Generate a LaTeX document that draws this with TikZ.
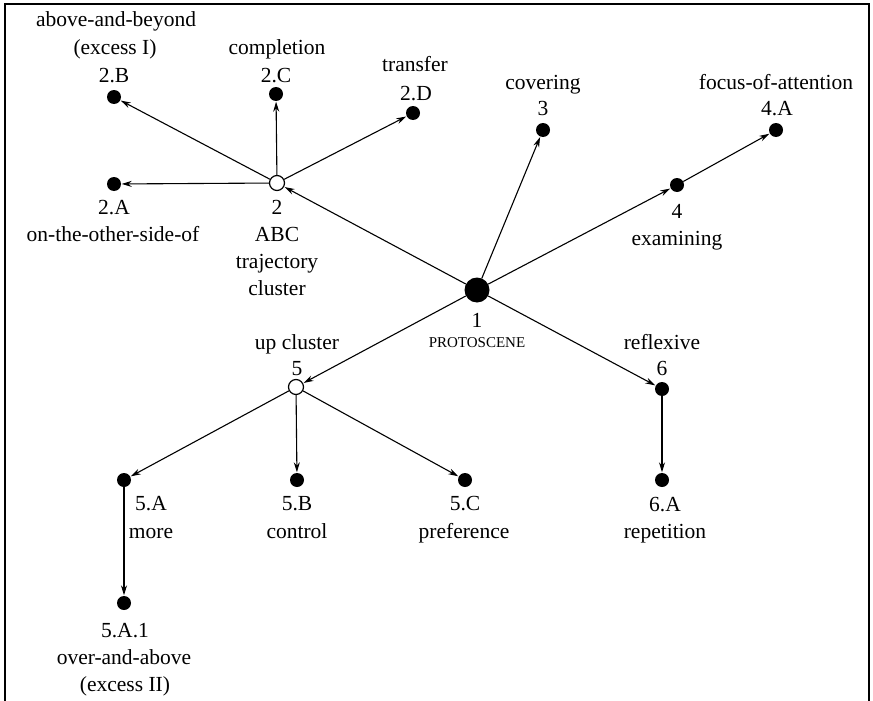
\documentclass[tikz,border=0pt]{standalone}
\usepackage{fontspec}
\setmainfont{Liberation Serif}
\usetikzlibrary{arrows.meta}
\begin{document}
\begin{tikzpicture}[x=1pt,y=-1pt,
  dot/.style={circle,fill=black,inner sep=0pt,minimum size=14pt},
  odot/.style={circle,draw=black,fill=white,line width=1.2pt,inner sep=0pt,minimum size=15pt},
  bigdot/.style={circle,fill=black,inner sep=0pt,minimum size=25pt},
  lbl/.style={anchor=base,inner sep=0pt,font=\fontsize{21.5}{26}\selectfont},
  sclbl/.style={anchor=base,inner sep=0pt,font=\fontsize{15}{18}\selectfont},
  arr/.style={line width=1.1pt,-{Stealth[length=10pt,width=6pt]},shorten >=0.5pt}]
\useasboundingbox (0,0) rectangle (873,701);
\fill[white] (0,0) rectangle (873,701);
\draw[line width=2pt] (5,701) -- (5,4) -- (869,4) -- (869,701);
% nodes
\node[bigdot] (n1) at (477,290) {};
\node[odot] (n2) at (277,183) {};
\node[dot] (n2A) at (114,184) {};
\node[dot] (n2B) at (114,97) {};
\node[dot] (n2C) at (276,94) {};
\node[dot] (n2D) at (413,113) {};
\node[dot] (n3) at (543,130) {};
\node[dot] (n4) at (677,185) {};
\node[dot] (n4A) at (776,130) {};
\node[odot] (n5) at (296,387) {};
\node[dot] (n5A) at (124,480) {};
\node[dot] (n5B) at (297,480) {};
\node[dot] (n5C) at (465,480) {};
\node[dot] (n5A1) at (124,603) {};
\node[dot] (n6) at (662,389) {};
\node[dot] (n6A) at (662,480) {};
% labels
\node[lbl] (t2Ba) at (116,27) {above-and-beyond};
\node[lbl] (t2Bb) at (115,55) {(excess I)};
\node[lbl] (t2Bc) at (114,83) {2.B};
\node[lbl] (t2Ca) at (277,55) {completion};
\node[lbl] (t2Cb) at (276,83) {2.C};
\node[lbl] (t2Da) at (415,72) {transfer};
\node[lbl] (t2Db) at (416,100) {2.D};
\node[lbl] (t3a) at (543,89) {covering};
\node[lbl] (t3b) at (543,115) {3};
\node[lbl] (t4Aa) at (776,89) {focus-of-attention};
\node[lbl] (t4Ab) at (777,115) {4.A};
\node[lbl] (t2Aa) at (114,214) {2.A};
\node[lbl] (t2Ab) at (113,241) {on-the-other-side-of};
\node[lbl] (t2a) at (277,214) {2};
\node[lbl] (t2b) at (277,241) {ABC};
\node[lbl] (t2c) at (277,268) {trajectory};
\node[lbl] (t2d) at (277,295) {cluster};
\node[lbl] (t4a) at (677,218) {4};
\node[lbl] (t4b) at (677,245) {examining};
\node[lbl] (t1a) at (477,327) {1};
\node[sclbl] (t1b) at (477,347) {PROTOSCENE};
\node[lbl] (t5a) at (297,349) {up cluster};
\node[lbl] (t5b) at (297,375) {5};
\node[lbl] (t6a) at (662,349) {reflexive};
\node[lbl] (t6b) at (662,375) {6};
\node[lbl] (t5Aa) at (151,510) {5.A};
\node[lbl] (t5Ab) at (151,538) {more};
\node[lbl] (t5Ba) at (297,510) {5.B};
\node[lbl] (t5Bb) at (297,538) {control};
\node[lbl] (t5Ca) at (465,510) {5.C};
\node[lbl] (t5Cb) at (464,538) {preference};
\node[lbl] (t5A1a) at (125,637) {5.A.1};
\node[lbl] (t5A1b) at (124,664) {over-and-above};
\node[lbl] (t5A1c) at (125,691) {(excess II)};
\node[lbl] (t6Aa) at (665,511) {6.A};
\node[lbl] (t6Ab) at (665,538) {repetition};
% connectors
\draw[arr] (n1) -- (n2);
\draw[arr] (n2) -- (n2A);
\draw[arr] (n2) -- (n2B);
\draw[arr] (n2) -- (n2C);
\draw[arr] (n2) -- (n2D);
\draw[arr] (n1) -- (n3);
\draw[arr] (n1) -- (n4);
\draw[arr] (n4) -- (n4A);
\draw[arr] (n1) -- (n5);
\draw[arr] (n1) -- (n6);
\draw[arr] (n5) -- (n5A);
\draw[arr] (n5) -- (n5B);
\draw[arr] (n5) -- (n5C);
\draw[arr] (n5A) -- (n5A1);
\draw[arr] (n6) -- (n6A);
\end{tikzpicture}
\end{document}
